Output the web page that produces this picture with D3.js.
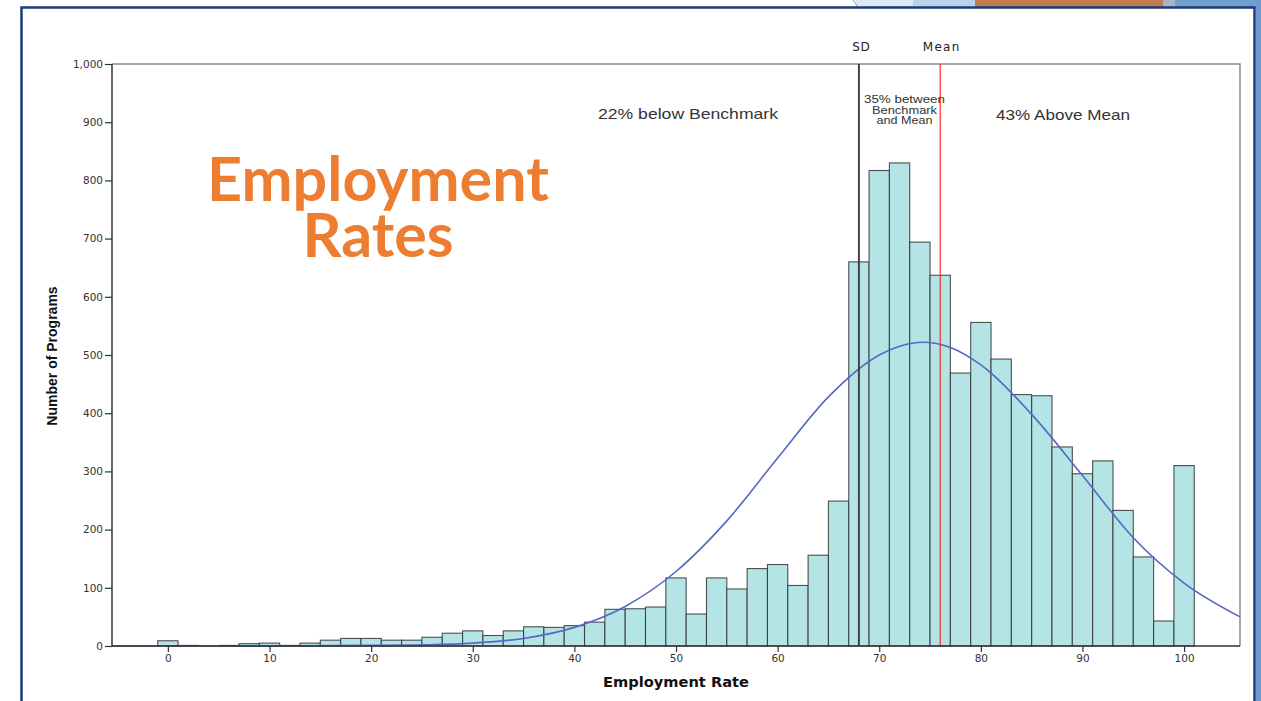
<!DOCTYPE html>
<html><head><meta charset="utf-8">
<script src="https://cdn.jsdelivr.net/npm/d3@7"></script>
<style>
html,body{margin:0;padding:0;background:#fff;overflow:hidden;}
svg{display:block;}
</style></head>
<body>
<svg id="chart" width="1261" height="701"></svg>
<script>
// ---- data ----
const binCenters = [0,2,4,6,8,10,12,14,16,18,20,22,24,26,28,30,32,34,36,38,40,42,44,46,48,50,52,54,56,58,60,62,64,66,68,70,72,74,76,78,80,82,84,86,88,90,92,94,96,98,100];
const binCounts  = [9,1,0,1,4,5,1,5,10,13,13,10,10,15,22,26,18,26,33,32,35,41,63,64,67,117,55,117,98,133,140,104,156,249,660,817,830,694,637,469,556,493,432,430,342,296,318,233,153,43,310];
const curveX = [-5.5,10,20,25,30,35,40,45,50,55,60,65,70,72,74.3,77,80,85,90,95,100,105.5];
const curveY = [0,0,1,2,5,13,32,68,128,215,323,428,500,515,522,513,483,398,293,186,108,50];
const yTicks = [0,100,200,300,400,500,600,700,800,900,1000];
const xTicks = [0,10,20,30,40,50,60,70,80,90,100];
const sdValue = 68;
const meanValue = 76;
const titleLines = ["Employment","Rates"];
const regionNotes = [
  {cx: 688, lines:["22% below Benchmark"], lens:[180], size:15, y0:119},
  {cx: 904.5, lines:["35% between","Benchmark","and Mean"], lens:[81,65,56], size:11, y0:103},
  {cx: 1063, lines:["43% Above Mean"], lens:[134], size:15, y0:120}
];

const svg = d3.select("#chart");

// ---- slide decoration ----
const deco = svg.append("g");
deco.append("rect").attr("x",856).attr("y",0).attr("width",57).attr("height",8).attr("fill","#dde9f5");
deco.append("rect").attr("x",913).attr("y",0).attr("width",62).attr("height",8).attr("fill","#b7d3ec");
deco.append("rect").attr("x",975).attr("y",0).attr("width",188).attr("height",8).attr("fill","#c07c50");
deco.append("rect").attr("x",1163).attr("y",0).attr("width",12).attr("height",8).attr("fill","#a9b3c2");
deco.append("rect").attr("x",1175).attr("y",0).attr("width",86).attr("height",8).attr("fill","#72a0cc");
deco.append("rect").attr("x",1256).attr("y",0).attr("width",5).attr("height",701).attr("fill","#6f9ccf");
deco.append("path").attr("d","M853,0 Q856,4 858,8").attr("fill","none").attr("stroke","#999").attr("stroke-width",1);
svg.append("rect").attr("x",21.5).attr("y",7.5).attr("width",1233).attr("height",710)
  .attr("fill","#fff").attr("stroke","#1b3a78").attr("stroke-width",2.5);

// ---- scales ----
const x = d3.scaleLinear().domain([-5.5,105.5]).range([112,1240]);
const y = d3.scaleLinear().domain([0,1000]).range([646,64]);

// frame
svg.append("path").attr("d",`M${x(-5.5)},${y(1000)}H${x(105.5)}V${y(0)}`)
  .attr("fill","none").attr("stroke","#8a8a8a").attr("stroke-width",1.5);

// bars
svg.append("g").selectAll("rect").data(binCenters).join("rect")
  .attr("x",(d)=>x(d-1)).attr("width",(d)=>x(d+1)-x(d-1))
  .attr("y",(d,i)=>y(binCounts[i])).attr("height",(d,i)=>y(0)-y(binCounts[i]))
  .attr("fill","#b4e4e6").attr("stroke","#333").attr("stroke-width",1.1).attr("stroke-opacity",0.85);

// normal curve
const line = d3.line().x((d,i)=>x(curveX[i])).y((d)=>y(d)).curve(d3.curveMonotoneX);
svg.append("path").datum(curveY).attr("d",line)
  .attr("fill","none").attr("stroke","#5568c2").attr("stroke-width",1.6);

// SD and mean lines
svg.append("line").attr("x1",x(sdValue)).attr("x2",x(sdValue)).attr("y1",y(1000)).attr("y2",y(0))
  .attr("stroke","#444").attr("stroke-width",2);
svg.append("line").attr("x1",x(meanValue)).attr("x2",x(meanValue)).attr("y1",y(1000)).attr("y2",y(0))
  .attr("stroke","#ff2a2a").attr("stroke-width",1.2);

const lblFont = "DejaVu Sans, Verdana, sans-serif";
svg.append("text").attr("x",x(sdValue)+2.5).attr("y",51).attr("text-anchor","middle")
  .attr("font-family",lblFont).attr("font-size",12).attr("letter-spacing",0.8).attr("fill","#222").text("SD");
svg.append("text").attr("x",x(meanValue)+1.5).attr("y",51).attr("text-anchor","middle")
  .attr("font-family",lblFont).attr("font-size",12).attr("letter-spacing",1.3).attr("fill","#222").text("Mean");

// axes
const yAxis = d3.axisLeft(y).tickValues(yTicks).tickFormat(d3.format(",")).tickSize(7).tickPadding(2);
const gy = svg.append("g").attr("transform",`translate(${x(-5.5)},0)`).call(yAxis);
const xAxis = d3.axisBottom(x).tickValues(xTicks).tickSize(6).tickPadding(3);
const gx = svg.append("g").attr("transform",`translate(0,${y(0)})`).call(xAxis);
[gx,gy].forEach(g=>{
  g.select(".domain").attr("stroke","#333").attr("stroke-width",1.5);
  g.selectAll(".tick line").attr("stroke","#333").attr("stroke-width",1.2);
  g.selectAll(".tick text").attr("font-family",lblFont).attr("font-size",10.5).attr("fill","#333");
});
gx.select(".domain").attr("d",`M${x(-5.5)},0H${x(105.5)}`);
gy.select(".domain").attr("d",`M0,${y(0)}V${y(1000)}`);

// axis titles
svg.append("text").attr("x",676).attr("y",687).attr("text-anchor","middle")
  .attr("font-family","DejaVu Sans, Verdana, sans-serif").attr("font-weight","bold").attr("font-size",13.5)
  .attr("textLength",146).attr("lengthAdjust","spacingAndGlyphs")
  .attr("fill","#111").text("Employment Rate");
svg.append("text").attr("transform","translate(57,356) rotate(-90)").attr("text-anchor","middle")
  .attr("font-family","Liberation Sans Narrow, Arial Narrow, Liberation Sans, sans-serif").attr("font-weight","bold")
  .attr("font-size",14).attr("fill","#111").text("Number of Programs");

// region notes
regionNotes.forEach(n=>{
  n.lines.forEach((s,i)=>{
    svg.append("text").attr("text-anchor","start")
      .attr("font-family","Liberation Sans, Arial, sans-serif").attr("font-size",n.size).attr("fill","#333")
      .attr("x",n.cx-n.lens[i]/2).attr("y",n.y0+i*10.5)
      .attr("textLength",n.lens[i]).attr("lengthAdjust","spacingAndGlyphs").text(s);
  });
});

// title
const title = svg.append("text").attr("text-anchor","middle")
  .attr("font-family","Lato, Open Sans, sans-serif").attr("font-weight","bold").attr("font-size",61)
  .attr("fill","#ed7d31");
title.selectAll("tspan").data(titleLines).join("tspan")
  .attr("x",378).attr("y",(d,i)=>201+i*56).text(d=>d);
</script>
</body></html>
